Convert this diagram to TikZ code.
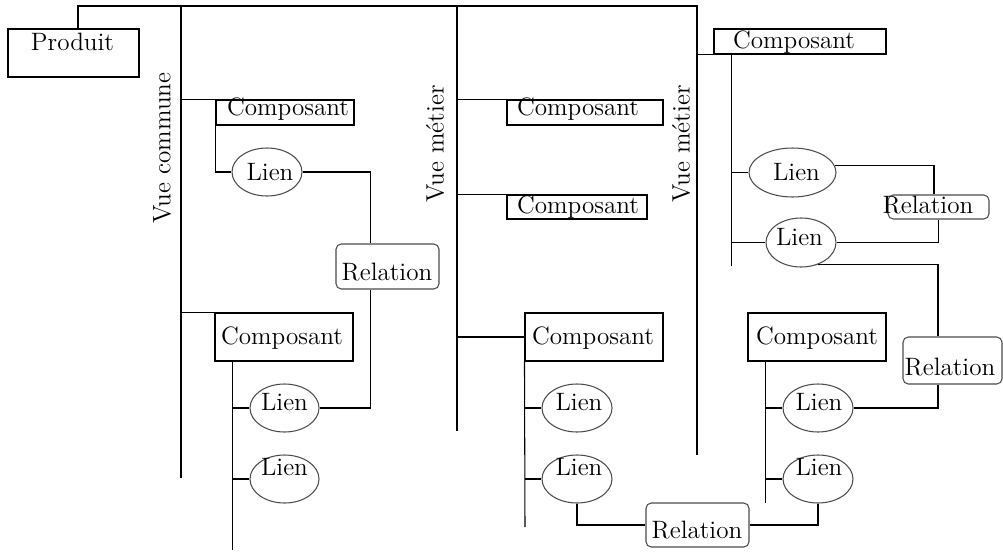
\documentclass[tikz,border=0pt]{standalone}
\usepackage{tikz}
\usetikzlibrary{shapes.geometric,positioning,calc}

\begin{document}
\begin{tikzpicture}[
    x=0.2mm, y=-0.2mm,
    font=\fontsize{14.3}{17}\selectfont,
    line width=0.6pt,
    boite/.style={draw, rectangle, inner sep=0pt},
    lien/.style={draw=black!70, ellipse, inner sep=0pt, minimum width=14mm, minimum height=9.6mm},
    relation/.style={draw=black!70, rectangle, rounded corners=3pt, inner sep=0pt},
    txt/.style={inner sep=0pt, anchor=base},
    vue/.style={inner sep=0pt, rotate=90}
]
\useasboundingbox (0,0) rectangle (1003,552);

% produit et vues
\node[boite, minimum width=26.2mm, minimum height=9.6mm] (pr) at (73.5,53) {};
\node[txt] (tpr) at (72.5,50) {Produit};
\coordinate (haut) at (697,6);
\coordinate (vc0) at (181,6);
\coordinate (vc1) at (181,478);
\coordinate (vm0) at (457,6);
\coordinate (vm1) at (457,431);
\coordinate (vn1) at (697,455);
\draw ($(pr.north)+(4.5,0)$) |- (haut) -- (vn1);
\draw (vc0) -- (vc1);
\draw (vm0) -- (vm1);
\node[vue] (vuec) at (162,148) {Vue commune};
\node[vue] (vuem1) at (435,144) {Vue métier};
\node[vue] (vuem2) at (681,144) {Vue métier};

% vue commune
\node[boite, minimum width=27.6mm, minimum height=5mm] (c1) at (285,112.5) {};
\node[txt] (tc1) at (288,115) {Composant};
\node[lien] (l1) at (267,172) {};
\node[txt] (tl1) at (270,180) {Lien};
\node[relation, minimum width=20.6mm, minimum height=9mm] (r1) at (387.5,266.5) {};
\node[txt] (tr1) at (387,280) {Relation};
\node[boite, minimum width=27.6mm, minimum height=9.6mm] (c2) at (284,337) {};
\node[txt] (tc2) at (282,344) {Composant};
\node[lien, minimum width=13.8mm] (l2) at (284.5,408) {};
\node[txt] (tl2) at (284.5,410) {Lien};
\node[lien, minimum width=13.8mm] (l3) at (284.5,479) {};
\node[txt] (tl3) at (284.5,475) {Lien};
\coordinate (c2b) at ($(c2.south west)+(18,188)$);

\draw (vc0 |- c1.north west) -- (c1.north west);
\draw (c1.south west) |- (l1.west);
\draw (vc0 |- c2.north west) -- (c2.north west);
\draw ($(c2.south west)+(18,0)$) -- (c2b);
\draw (c2b |- l2.west) -- (l2.west);
\draw (c2b |- l3.west) -- (l3.west);
\draw (l1.east) -| ($(r1.north)+(-17,0)$);
\draw ($(r1.south)+(-17,0)$) |- (l2.east);

% premiere vue metier
\node[boite, minimum width=31.2mm, minimum height=5mm] (c3) at (585,112.5) {};
\node[txt] (tc3) at (578,115) {Composant};
\node[boite, minimum width=28mm, minimum height=4.8mm] (c4) at (577,207) {};
\node[txt] (tc4) at (578,213) {Composant};
\node[boite, minimum width=27.6mm, minimum height=9.6mm] (c5) at (594,337) {};
\node[txt] (tc5) at (593,344) {Composant};
\node[lien] (l4) at (577,408) {};
\node[txt] (tl4) at (579,410) {Lien};
\node[lien] (l5) at (577,479) {};
\node[txt] (tl5) at (579,475) {Lien};
\node[relation, minimum width=20.6mm, minimum height=8.8mm] (r3) at (697.5,525) {};
\node[txt] (tr3) at (697,538) {Relation};
\coordinate (c5b) at (525,527);

\draw (vm0 |- c3.north west) -- (c3.north west);
\draw (vm0 |- c4.north west) -- (c4.north west);
\draw (vm0 |- c5.west) -- (c5.west);
\draw (c5.south west) -- (c5b);
\draw (c5b |- l4.west) -- (l4.west);
\draw (c5b |- l5.west) -- (l5.west);
\draw (l5.south) |- (r3.west);

% seconde vue metier
\node[boite, minimum width=34.4mm, minimum height=5mm] (c6) at (800,41.5) {};
\node[txt] (tc6) at (794,49) {Composant};
\node[lien, minimum width=17.4mm, minimum height=9.8mm] (l6) at (792.5,172.5) {};
\node[txt] (tl6) at (796.5,180) {Lien};
\node[lien, minimum height=9.8mm] (l7) at (801,242.5) {};
\node[txt] (tl7) at (799.5,245) {Lien};
\node[relation, minimum width=20.2mm, minimum height=4.8mm] (r2) at (938.5,207) {};
\node[txt] (tr2) at (928,213) {Relation};
\node[relation, minimum width=19.8mm, minimum height=9.4mm] (r4) at (952.5,360.5) {};
\node[txt] (tr4) at (950,375) {Relation};
\node[boite, minimum width=27.6mm, minimum height=9.6mm] (c7) at (817,337) {};
\node[txt] (tc7) at (817,344) {Composant};
\node[lien] (l8) at (818,408) {};
\node[txt] (tl8) at (819,410) {Lien};
\node[lien] (l9) at (818,479) {};
\node[txt] (tl9) at (819,475) {Lien};
\coordinate (c6b) at ($(c6.south west)+(18,211)$);
\coordinate (c7b) at ($(c7.south west)+(18,141)$);

\draw (haut |- c6.south west) -- (c6.south west);
\draw ($(c6.south west)+(18,0)$) -- (c6b);
\draw (c6b |- l6.west) -- (l6.west);
\draw (c6b |- l7.west) -- (l7.west);
\draw (l6.10) -| ($(r2.north)+(-4.5,0)$);
\draw (r2.south) |- (l7.east);
\draw (l7.-52) -| ($(r4.north)+(-14.5,0)$);
\draw ($(r4.south)+(-14.5,0)$) |- (l8.east);
\draw ($(c7.south west)+(18,0)$) -- (c7b);
\draw (c7b |- l8.west) -- (l8.west);
\draw (c7b |- l9.west) -- (l9.west);
\draw (r3.east) -| (l9.south);
\end{tikzpicture}
\end{document}
